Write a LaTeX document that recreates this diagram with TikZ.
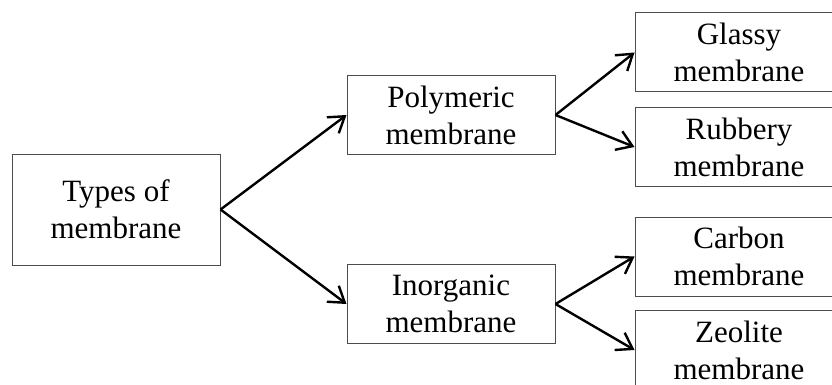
\documentclass[tikz,border=0pt]{standalone}
\usepackage{fontspec}
\setmainfont{Liberation Serif}
\usetikzlibrary{arrows.meta}

\begin{document}
\begin{tikzpicture}[x=1pt, y=-1pt,
    box/.style={draw=black!70, line width=1pt, minimum width=208pt, minimum height=79pt,
        align=center, inner sep=0pt, font=\fontsize{31}{37}\selectfont},
    arrow/.style={-{Straight Barb[length=15pt, width=20pt]}, line width=2.4pt}]
    \useasboundingbox (0,0) rectangle (832,385);

    % Root
    \node[box, minimum height=111pt] (types) at (116,209.5) {Types of\\membrane};

    % Second level
    \node[box] (poly)  at (451,115) {Polymeric\\membrane};
    \node[box] (inorg) at (451,304) {Inorganic\\membrane};

    % Third level (cut off at the right edge)
    \node[box] (glassy)  at (739,52.5)  {Glassy\\membrane};
    \node[box] (rubbery) at (739,147)   {Rubbery\\membrane};
    \node[box] (carbon)  at (739,256.5) {Carbon\\membrane};
    \node[box] (zeolite) at (739,350)   {Zeolite\\membrane};

    % Arrows
    \foreach \dst in {poly, inorg}
        \draw[arrow] (types.east) -- (\dst.west);
    \foreach \src/\dst in {poly/glassy, poly/rubbery, inorg/carbon, inorg/zeolite}
        \draw[arrow] (\src.east) -- (\dst.west);

\end{tikzpicture}
\end{document}
